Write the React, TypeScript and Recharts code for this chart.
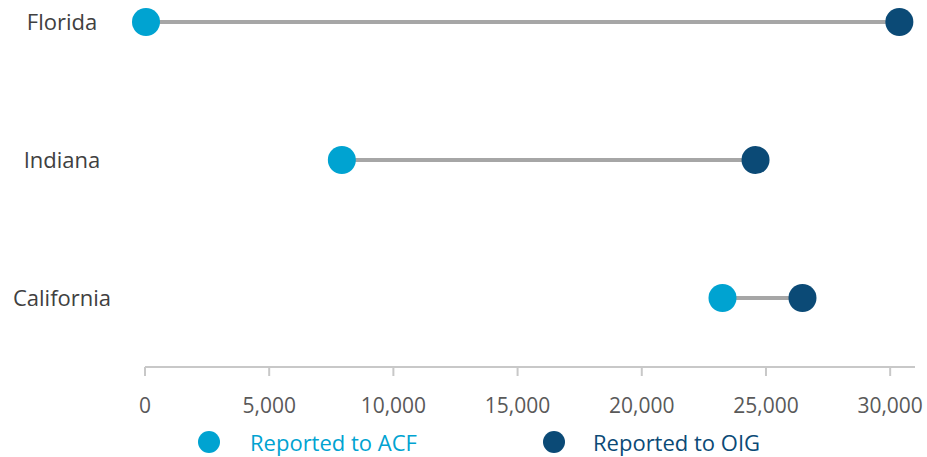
import React from "react";
import {
  ScatterChart,
  Scatter,
  XAxis,
  YAxis,
  Legend,
} from "recharts";

const states = ["Florida", "Indiana", "California"];
const reportedToAcf = [40, 7925, 23250];
const reportedToOig = [30370, 24580, 26470];
const xTicks = [0, 5000, 10000, 15000, 20000, 25000, 30000];

const ACF = "#00A3D1";
const OIG = "#0B4A76";
const FONT = "'Open Sans', 'Noto Sans', sans-serif";

// row position: first state at top
const pos = (i: number) => states.length - 1 - i;

const acfData = states.map((s, i) => ({ name: s, value: reportedToAcf[i], pos: pos(i) }));
const oigData = states.map((s, i) => ({ name: s, value: reportedToOig[i], pos: pos(i) }));
const segments = states.map((s, i) => [
  { value: reportedToAcf[i], pos: pos(i) },
  { value: reportedToOig[i], pos: pos(i) },
]);

const dot = (color: string) => (props: any) =>
  <circle cx={props.cx} cy={props.cy} r={14} fill={color} />;

const StateTick = (props: any) => {
  const { y, payload } = props;
  const label = states[states.length - 1 - payload.value];
  return (
    <text x={62} y={y} dy={8} textAnchor="middle" fill="#404040" fontSize={22} fontFamily={FONT}>
      {label}
    </text>
  );
};

const LegendContent = () => (
  <svg width={927} height={35}>
    <circle cx={209} cy={20} r={11} fill={ACF} />
    <text x={250} y={29} fill={ACF} fontSize={22} fontFamily={FONT}>Reported to ACF</text>
    <circle cx={554} cy={20} r={11} fill={OIG} />
    <text x={593} y={29} fill={OIG} fontSize={22} fontFamily={FONT}>Reported to OIG</text>
  </svg>
);

export default function App() {
  return (
    <div style={{ position: "absolute", left: 0, top: 0, background: "#fff" }}>
      <ScatterChart width={927} height={457} margin={{ top: 22, right: 12, bottom: 0, left: 0 }}>
        <XAxis
          type="number"
          dataKey="value"
          domain={[0, 31000]}
          ticks={xTicks}
          tickFormatter={(v) => v.toLocaleString("en-US")}
          stroke="#c8c8c8"
          strokeWidth={2}
          tickSize={9}
          tick={{ fontSize: 21, fill: "#595959", fontFamily: FONT, dy: 20 }}
          height={55}
        />
        <YAxis
          type="number"
          dataKey="pos"
          domain={[-0.5, 2]}
          ticks={[0, 1, 2]}
          axisLine={false}
          tickLine={false}
          tick={<StateTick />}
          width={145}
        />
        <Legend verticalAlign="bottom" height={35} content={<LegendContent />} />
        {segments.map((seg, i) => (
          <Scatter
            key={states[i]}
            data={seg}
            line={{ stroke: "#a6a6a6", strokeWidth: 4 }}
            shape={() => <g />}
            legendType="none"
            isAnimationActive={false}
          />
        ))}
        <Scatter name="Reported to ACF" data={acfData} fill={ACF} shape={dot(ACF)} isAnimationActive={false} />
        <Scatter name="Reported to OIG" data={oigData} fill={OIG} shape={dot(OIG)} isAnimationActive={false} />
      </ScatterChart>
    </div>
  );
}
